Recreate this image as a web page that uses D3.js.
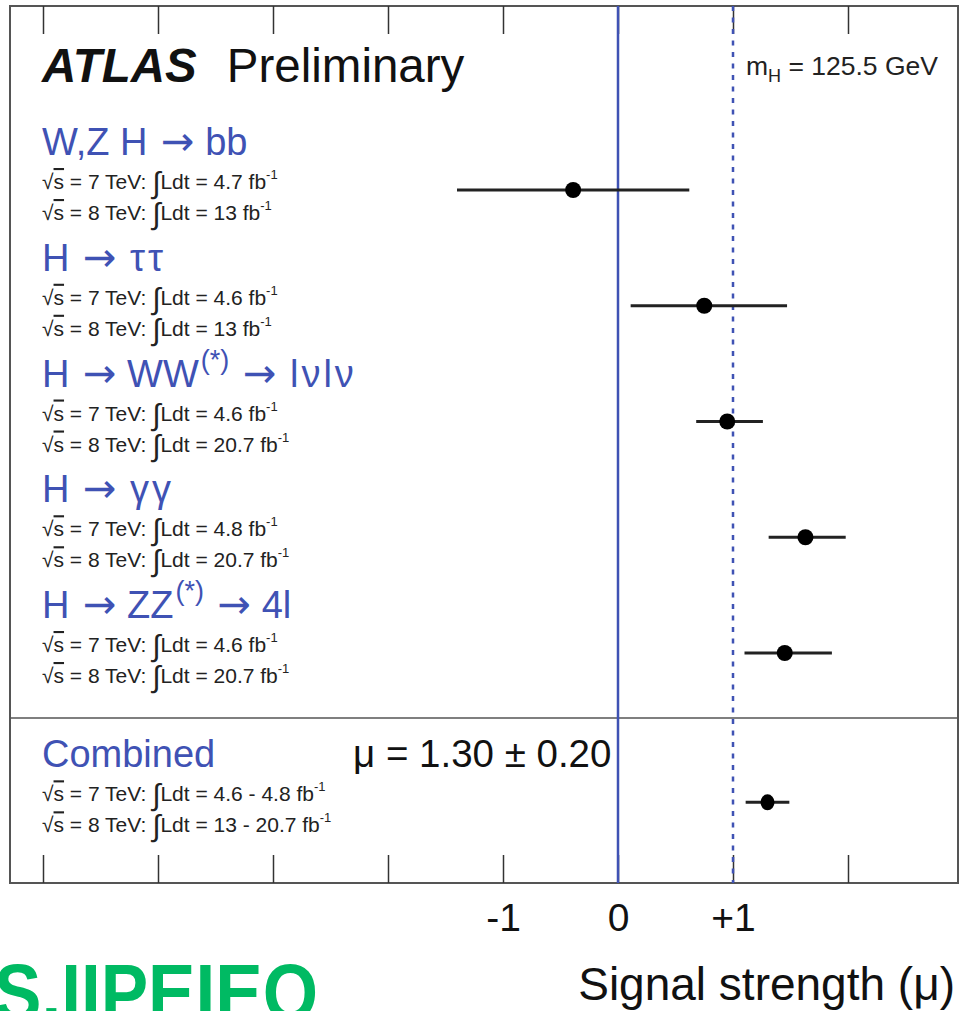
<!DOCTYPE html>
<html>
<head>
<meta charset="utf-8">
<script src="https://cdn.jsdelivr.net/npm/d3@7"></script>
<style>
    body { margin: 0; background: #fff; }
    text { font-family: "Liberation Sans", Arial, sans-serif; }
</style>
</head>
<body>
<div id="chart"></div>
<script>
// channel names, split into parts so superscripts and arrows can be drawn
const channels = [
    [["W,Z H "], ["→", "arrow"], [" bb"]],
    [["H "], ["→", "arrow"], [" ττ", "greek"]],
    [["H "], ["→", "arrow"], [" WW"], ["(*)", "sup"], [" "], ["→", "arrow"], [" lνlν", "greek"]],
    [["H "], ["→", "arrow"], [" γγ", "greek"]],
    [["H "], ["→", "arrow"], [" ZZ"], ["(*)", "sup"], [" "], ["→", "arrow"], [" 4l"]],
    [["Combined"]]
];
const mu = [-0.39, 0.75, 0.95, 1.63, 1.45, 1.30];
const errLo = [1.01, 0.64, 0.27, 0.32, 0.35, 0.19];
const errHi = [1.01, 0.72, 0.31, 0.35, 0.41, 0.19];
const rows = [0, 1, 2, 3, 4, 5.29];
const lumi7 = ["4.7", "4.6", "4.6", "4.8", "4.6", "4.6 - 4.8"];
const lumi8 = ["13", "13", "20.7", "20.7", "20.7", "13 - 20.7"];
const tickValues = [-5, -4, -3, -2, -1, 0, 1, 2];
const labelValues = [-1, 0, 1];
const combinedText = "μ = 1.30 ± 0.20";

const width = 959, height = 1011;
const frame = { left: 10, top: 6, right: 958, bottom: 883 };
const blue = "#3f52b4";

const svg = d3.select("#chart").append("svg")
    .attr("width", width)
    .attr("height", height);

const x = d3.scaleLinear()
    .domain([(frame.left - 618) / 115, (frame.right - 618) / 115])
    .range([frame.left, frame.right]);

const y = d3.scaleLinear()
    .domain([0, 4])
    .range([190, 653]);

// frame
svg.append("rect")
    .attr("x", frame.left)
    .attr("y", frame.top)
    .attr("width", frame.right - frame.left)
    .attr("height", frame.bottom - frame.top)
    .attr("fill", "none")
    .attr("stroke", "#555")
    .attr("stroke-width", 2);

// separator above combined
svg.append("line")
    .attr("x1", frame.left).attr("x2", frame.right)
    .attr("y1", 718).attr("y2", 718)
    .attr("stroke", "#555")
    .attr("stroke-width", 1.5);

// ticks top and bottom, no labels
const tickLen = 28;
svg.append("g")
    .attr("transform", `translate(0,${frame.bottom})`)
    .call(d3.axisBottom(x).tickValues(tickValues).tickSize(-tickLen).tickFormat(""))
    .call(g => g.select(".domain").remove())
    .call(g => g.selectAll(".tick line").attr("stroke", "#333").attr("stroke-width", 1.5));

svg.append("g")
    .attr("transform", `translate(0,${frame.top})`)
    .call(d3.axisTop(x).tickValues(tickValues).tickSize(-tickLen).tickFormat(""))
    .call(g => g.select(".domain").remove())
    .call(g => g.selectAll(".tick line").attr("stroke", "#333").attr("stroke-width", 1.5));

// tick labels
svg.append("g")
    .attr("transform", `translate(0,${frame.bottom})`)
    .call(d3.axisBottom(x).tickValues(labelValues).tickSize(0).tickPadding(20)
        .tickFormat(d => d > 0 ? "+" + d : d))
    .call(g => g.select(".domain").remove())
    .call(g => g.selectAll(".tick text")
        .attr("font-family", "Liberation Sans, Arial, sans-serif")
        .attr("font-size", 39)
        .attr("fill", "#111"));

// axis title
svg.append("text")
    .attr("x", 955)
    .attr("y", 1000)
    .attr("text-anchor", "end")
    .attr("font-size", 46)
    .attr("fill", "#111")
    .text("Signal strength (μ)");

// reference lines at mu = 0 and mu = 1
svg.append("line")
    .attr("x1", x(0)).attr("x2", x(0))
    .attr("y1", frame.top).attr("y2", frame.bottom)
    .attr("stroke", blue)
    .attr("stroke-width", 2.5);

svg.append("line")
    .attr("x1", x(1)).attr("x2", x(1))
    .attr("y1", frame.top).attr("y2", frame.bottom)
    .attr("stroke", blue)
    .attr("stroke-width", 2.5)
    .attr("stroke-dasharray", "5,6.5");

// header
const header = svg.append("text")
    .attr("x", 42)
    .attr("y", 82)
    .attr("font-size", 47.5)
    .attr("fill", "#111");
header.append("tspan").attr("font-weight", "bold").attr("font-style", "italic").text("ATLAS");
header.append("tspan").attr("dx", 30).text("Preliminary");

const mass = svg.append("text")
    .attr("x", 746)
    .attr("y", 75)
    .attr("font-size", 26.5)
    .attr("fill", "#222");
mass.append("tspan").text("m");
mass.append("tspan").attr("font-size", 18).attr("dy", 7).text("H");
mass.append("tspan").attr("dy", -7).text(" = 125.5 GeV");

// channel labels
const labels = svg.append("g");

channels.forEach((parts, i) => {
    const yy = y(rows[i]);

    const title = labels.append("text")
        .attr("x", 42)
        .attr("y", yy - 35)
        .attr("font-size", 38)
        .attr("fill", blue);
    let shift = 0;
    parts.forEach(p => {
        const span = title.append("tspan").text(p[0]);
        if (p[1] === "sup") {
            span.attr("font-size", 27).attr("dx", 2).attr("dy", -18 - shift);
            shift = -18;
        } else {
            span.attr("dy", -shift);
            shift = 0;
            if (p[1] === "arrow") {
                span.attr("font-family", "DejaVu Sans, sans-serif").attr("font-size", 40).attr("dx", 3);
            } else if (p[1] === "greek") {
                span.attr("letter-spacing", 3);
            }
        }
    });

    lumiLine(labels, 42, yy - 1, 7, lumi7[i]);
    lumiLine(labels, 42, yy + 30, 8, lumi8[i]);
});

function lumiLine(g, x0, y0, energy, lumi) {
    const t = g.append("text")
        .attr("x", x0)
        .attr("y", y0)
        .attr("font-size", 21)
        .attr("fill", "#222");
    t.append("tspan").text("√");
    t.append("tspan").attr("text-decoration", "overline").text("s");
    t.append("tspan").text(` = ${energy} TeV: `);
    t.append("tspan").attr("font-size", 30).attr("dy", 4).text("∫");
    t.append("tspan").attr("dy", -4).text(`Ldt = ${lumi} fb`);
    t.append("tspan").attr("font-size", 13).attr("dy", -10).text("-1");
}

// combined value
svg.append("text")
    .attr("x", 353)
    .attr("y", y(rows[5]) - 35)
    .attr("font-size", 38.5)
    .attr("fill", "#111")
    .text(combinedText);

// error bars and points
const marks = svg.append("g");

marks.selectAll(".err")
    .data(mu)
    .join("line")
    .attr("class", "err")
    .attr("x1", (d, i) => x(d - errLo[i]))
    .attr("x2", (d, i) => x(d + errHi[i]))
    .attr("y1", (d, i) => y(rows[i]))
    .attr("y2", (d, i) => y(rows[i]))
    .attr("stroke", "#222")
    .attr("stroke-width", 3);

marks.selectAll(".pt")
    .data(mu)
    .join("ellipse")
    .attr("class", "pt")
    .attr("cx", d => x(d))
    .attr("cy", (d, i) => y(rows[i]))
    .attr("rx", (d, i) => i === 5 ? 7 : 8)
    .attr("ry", 8)
    .attr("fill", "#000");

// green scribble at the bottom left
svg.append("text")
    .attr("x", -6)
    .attr("y", 1020)
    .attr("font-family", "DejaVu Sans Condensed, DejaVu Sans, sans-serif")
    .attr("font-weight", "bold")
    .attr("font-size", 80)
    .attr("fill", "#00ba63")
    .attr("textLength", 324)
    .attr("lengthAdjust", "spacingAndGlyphs")
    .text("S.IIPEIEO");
</script>
</body>
</html>
